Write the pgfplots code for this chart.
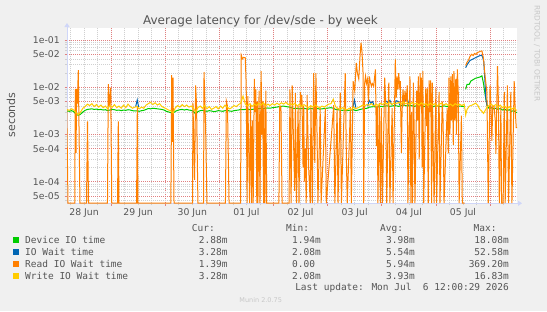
\documentclass[border=0pt]{standalone}
\usepackage{fontspec}
\setmainfont{DejaVu Sans}
\newfontfamily\monofont{DejaVu Sans Mono}
\usepackage{pgfplots}
\pgfplotsset{compat=1.18}
\usepackage{pgfplotstable}
\usetikzlibrary{arrows.meta}
\definecolor{bg}{HTML}{F0F0F0}
\definecolor{txt}{HTML}{555555}
\definecolor{axc}{HTML}{CFD6F8}
\definecolor{mgrid}{HTML}{E08080}
\definecolor{ngrid}{HTML}{D0D0D0}
\definecolor{cdev}{HTML}{00CC00}
\definecolor{cio}{HTML}{0066B3}
\definecolor{cread}{HTML}{FF8000}
\definecolor{cwrite}{HTML}{FFCC00}

% hours since 28 Jun 00:00 ; g = Device IO time, w = Write IO Wait time (seconds)
\pgfplotstableread{
h g w
4.3 3.15e-3 3.40e-3
5.5 3.10e-3 3.25e-3
6.5 3.20e-3 3.50e-3
7.5 3.05e-3 3.30e-3
8.5 2.65e-3 2.90e-3
9.5 2.55e-3 2.65e-3
10.5 2.70e-3 3.00e-3
11.5 3.00e-3 3.60e-3
12.5 3.25e-3 3.90e-3
13.5 3.40e-3 4.40e-3
14.5 3.45e-3 4.10e-3
15.5 3.50e-3 4.50e-3
16.5 3.40e-3 3.90e-3
17.5 3.45e-3 4.30e-3
18.5 3.35e-3 3.80e-3
19.5 3.40e-3 4.20e-3
20.5 3.30e-3 3.70e-3
21.5 3.35e-3 4.00e-3
22.5 3.20e-3 3.50e-3
23.5 3.30e-3 4.10e-3
24.5 3.40e-3 3.80e-3
25.5 3.35e-3 4.30e-3
26.5 3.25e-3 3.70e-3
27.5 3.30e-3 4.00e-3
28.5 3.20e-3 3.60e-3
29.5 3.30e-3 4.20e-3
30.5 3.25e-3 3.70e-3
31.5 3.35e-3 4.40e-3
32.5 3.30e-3 3.90e-3
33.5 3.20e-3 3.60e-3
34.5 3.15e-3 3.80e-3
35.5 3.15e-3 3.90e-3
36.5 3.10e-3 3.50e-3
37.5 3.20e-3 3.80e-3
38.5 3.25e-3 3.60e-3
39.5 3.40e-3 4.20e-3
40.5 3.55e-3 4.50e-3
41.5 3.50e-3 4.80e-3
42.5 3.60e-3 4.30e-3
43.5 3.55e-3 4.70e-3
44.5 3.50e-3 4.20e-3
45.5 3.45e-3 4.50e-3
46.5 3.40e-3 3.90e-3
47.5 3.30e-3 3.70e-3
48.5 3.10e-3 3.50e-3
49.5 3.00e-3 3.30e-3
50.5 2.90e-3 3.20e-3
51.5 2.85e-3 2.85e-3
52.5 3.10e-3 3.70e-3
53.5 3.25e-3 4.10e-3
54.5 3.35e-3 3.80e-3
55.5 3.40e-3 4.30e-3
56.5 3.30e-3 3.90e-3
57.5 3.40e-3 4.20e-3
58.5 3.30e-3 3.80e-3
59.5 3.25e-3 4.00e-3
60.5 3.10e-3 3.60e-3
61.5 2.70e-3 3.00e-3
62.5 3.05e-3 3.70e-3
63.5 3.20e-3 4.00e-3
64.5 3.25e-3 3.60e-3
65.5 3.15e-3 4.10e-3
66.5 3.10e-3 3.50e-3
67.5 3.20e-3 3.90e-3
68.5 3.15e-3 3.40e-3
69.5 3.05e-3 3.60e-3
70.5 3.10e-3 3.90e-3
71.5 3.20e-3 3.50e-3
72.5 3.15e-3 4.00e-3
73.5 3.10e-3 3.60e-3
74.5 3.20e-3 4.20e-3
75.5 3.25e-3 3.80e-3
76.5 3.15e-3 3.50e-3
77.5 3.10e-3 3.70e-3
78.5 3.20e-3 4.10e-3
79.5 3.25e-3 3.90e-3
80.5 3.30e-3 4.30e-3
81.5 3.40e-3 4.60e-3
82.5 3.35e-3 6.50e-3
83.5 3.40e-3 4.40e-3
84.5 3.45e-3 4.00e-3
85.5 3.35e-3 4.50e-3
86.5 3.40e-3 3.90e-3
87.5 3.45e-3 4.40e-3
88.5 3.50e-3 4.10e-3
89.5 3.55e-3 4.60e-3
90.5 3.60e-3 4.20e-3
91.5 3.55e-3 4.70e-3
92.5 3.60e-3 4.00e-3
93.5 3.65e-3 4.40e-3
94.5 3.60e-3 4.10e-3
95.5 3.70e-3 4.50e-3
96.5 3.75e-3 4.20e-3
97.5 3.80e-3 4.60e-3
98.5 3.90e-3 4.30e-3
99.5 3.95e-3 4.70e-3
100.5 4.00e-3 4.40e-3
101.5 3.90e-3 4.80e-3
102.5 3.85e-3 4.30e-3
103.5 3.75e-3 4.50e-3
104.5 3.60e-3 4.20e-3
105.5 3.55e-3 4.60e-3
106.5 3.60e-3 4.00e-3
107.5 3.50e-3 4.40e-3
108.5 3.55e-3 3.90e-3
109.5 3.60e-3 4.30e-3
110.5 3.50e-3 4.00e-3
111.5 3.45e-3 3.70e-3
112.5 3.55e-3 4.10e-3
113.5 3.50e-3 3.80e-3
114.5 3.60e-3 4.20e-3
115.5 3.55e-3 3.90e-3
116.5 3.45e-3 3.70e-3
117.5 3.50e-3 4.00e-3
118.5 3.55e-3 3.80e-3
119.5 3.60e-3 4.10e-3
120.5 3.65e-3 4.40e-3
121.5 3.70e-3 4.50e-3
122.5 3.60e-3 5.60e-3
123.5 3.40e-3 3.90e-3
124.5 3.35e-3 3.60e-3
125.5 3.30e-3 3.40e-3
126.5 3.25e-3 3.70e-3
127.5 3.30e-3 3.50e-3
128.5 3.20e-3 3.30e-3
129.5 3.25e-3 3.60e-3
130.5 3.30e-3 3.40e-3
131.5 3.35e-3 3.80e-3
132.5 3.20e-3 3.50e-3
133.5 3.30e-3 3.70e-3
134.5 3.40e-3 3.90e-3
135.5 3.50e-3 4.20e-3
136.5 3.55e-3 4.10e-3
137.5 3.60e-3 4.30e-3
138.5 3.80e-3 4.20e-3
139.5 3.85e-3 4.50e-3
140.5 3.90e-3 4.00e-3
141.5 3.80e-3 4.40e-3
142.5 3.85e-3 4.10e-3
143.5 3.95e-3 4.60e-3
144.5 3.90e-3 4.30e-3
145.5 4.00e-3 4.70e-3
146.5 4.05e-3 4.40e-3
147.5 3.95e-3 4.80e-3
148.5 4.00e-3 4.30e-3
149.5 4.10e-3 4.70e-3
150.5 4.05e-3 4.50e-3
151.5 3.95e-3 4.80e-3
152.5 4.10e-3 4.40e-3
153.5 4.20e-3 4.90e-3
154.5 4.10e-3 4.50e-3
155.5 4.00e-3 4.70e-3
156.5 4.15e-3 4.30e-3
157.5 4.05e-3 4.80e-3
158.5 3.95e-3 4.40e-3
159.5 4.10e-3 4.60e-3
160.5 4.20e-3 4.20e-3
161.5 4.05e-3 4.70e-3
162.5 3.90e-3 4.30e-3
163.5 4.00e-3 4.50e-3
164.5 4.10e-3 4.10e-3
165.5 3.95e-3 4.60e-3
166.5 3.85e-3 4.20e-3
167.5 4.00e-3 4.50e-3
168.5 4.10e-3 4.00e-3
169.5 3.95e-3 4.40e-3
170.5 3.90e-3 4.60e-3
171.5 4.05e-3 4.20e-3
172.5 3.95e-3 4.50e-3
173.5 3.85e-3 4.10e-3
174.5 4.00e-3 4.40e-3
175.5 4.10e-3 4.00e-3
176.5 3.95e-3 4.50e-3
177.5 3.90e-3 4.20e-3
178.5 4.00e-3 4.40e-3
179.5 3.95e-3 4.10e-3
180.5 3.90e-3 4.40e-3
181.0 nan 3.20e-3
181.2 9.1e-3 2.60e-3
181.8 11.6e-3 3.40e-3
182.8 11.6e-3 4.00e-3
183.5 13.6e-3 4.10e-3
184.5 14.5e-3 4.30e-3
185.5 15.5e-3 4.60e-3
186.5 16.0e-3 4.20e-3
187.5 16.5e-3 3.40e-3
188.4 17.5e-3 3.10e-3
189.1 12.0e-3 2.80e-3
189.8 7.0e-3 3.20e-3
190.6 4.20e-3 3.80e-3
191.5 3.60e-3 4.10e-3
192.5 3.70e-3 4.40e-3
193.5 3.50e-3 4.00e-3
194.5 3.60e-3 4.30e-3
195.5 3.40e-3 3.80e-3
196.5 3.55e-3 4.20e-3
197.5 3.30e-3 3.70e-3
198.5 3.45e-3 4.00e-3
199.5 3.20e-3 3.50e-3
200.5 3.35e-3 3.90e-3
201.5 3.10e-3 3.40e-3
202.5 3.20e-3 3.70e-3
203.5 2.95e-3 3.30e-3
204.2 2.88e-3 3.28e-3
}\basetab

% Read IO Wait time (seconds); 3.5e-5 stands for 0 (drawn at the bottom of the log axis)
\pgfplotstableread{
h r
4.3 5e-3
4.9 3.5e-5
7.9 3.5e-5
8.14 9.3e-3
8.45 4.1e-4
8.76 9.3e-3
9.03 4.5e-3
9.47 0.023
10.2 3.5e-5
13.1 3.5e-5
13.55 1.9e-3
14.0 3.5e-5
22.4 3.5e-5
22.77 0.0116
23.2 4e-3
23.84 0.0098
24.3 3.5e-5
26.85 3.5e-5
27.2 1.9e-3
27.5 3.5e-5
35.3 3.5e-5
35.63 4e-3
35.9 3.5e-5
50.5 3.5e-5
50.88 0.018
51.14 7e-4
51.45 0.016
51.9 3.5e-5
60.1 3.5e-5
60.3 4.7e-3
61.0 1.1e-4
61.5 0.011
61.9 4e-3
62.5 3.5e-5
65.0 3.5e-5
65.2 0.021
65.9 1.5e-3
66.5 3.5e-5
74.7 3.5e-5
75.1 5.1e-3
75.6 4e-3
76.3 3.5e-5
81.4 3.5e-5
81.7 0.048
82.2 0.040
82.7 0.043
83.5 0.042
83.9 0.011
84.3 3.5e-5
84.6 6.5e-3
85.0 5e-4
85.4 3.5e-5
85.8 4.5e-3
86.3 3.5e-5
86.6 2e-3
87.0 3.5e-5
87.5 0.015
87.8 3e-3
88.2 9e-3
88.6 3.5e-5
88.8 5e-3
89.1 3.5e-5
89.6 8.5e-3
90.0 3.5e-5
90.5 0.022
90.9 1e-3
91.2 5e-3
91.6 3.5e-5
91.8 4.5e-3
92.2 3.5e-5
92.6 8.5e-3
93.0 3.5e-5
98.4 3.5e-5
98.75 4e-3
99.3 4e-3
99.8 3.5e-5
102.9 3.5e-5
103.3 9e-3
103.8 3.5e-5
104.3 0.011
105.4 6.4e-5
105.7 7.5e-3
106.2 3.5e-5
106.9 4e-3
107.3 3.5e-5
107.9 8e-3
108.3 5e-3
108.6 6.8e-3
109.1 2e-4
109.4 4e-3
109.7 1e-4
110.1 5e-4
110.5 3.5e-5
110.9 6.8e-3
111.6 1.9e-4
112.3 3.5e-5
112.6 4e-3
113.2 3.5e-5
113.8 0.020
114.3 2.5e-4
114.8 0.020
115.3 1e-3
115.7 3.5e-5
116.7 3.6e-3
117.1 3.5e-5
119.0 3.6e-3
119.4 3.5e-5
122.7 4.2e-3
123.2 3.5e-5
124.2 3.6e-3
124.6 3.5e-5
125.6 7.7e-3
126.1 3.5e-5
127.8 0.020
128.3 3.5e-4
128.7 3.5e-5
130.1 3.8e-3
130.5 3.5e-5
131.3 0.0135
132.0 8.3e-3
132.7 0.033
133.2 0.020
133.8 0.015
134.35 0.045
134.8 0.088
135.2 0.060
135.7 0.020
136.0 3.5e-5
136.4 0.012
136.8 0.017
137.2 0.012
137.7 0.015
138.1 5e-3
138.5 0.017
138.9 0.013
139.4 0.0106
139.8 0.012
140.4 0.0106
141.2 0.024
141.6 5.7e-4
142.0 4e-3
142.3 3.5e-5
142.9 4.6e-3
143.4 3.5e-5
143.8 3.6e-3
144.3 3.5e-5
145.3 0.016
145.8 4e-3
146.2 3.5e-5
147.1 0.0125
147.6 3.5e-5
148.6 3.6e-3
149.0 3.5e-5
150.0 0.039
150.4 6e-3
150.8 0.017
151.2 9e-3
151.5 0.020
151.9 0.011
152.2 0.0135
152.7 4.1e-4
153.0 3e-3
153.4 9e-3
153.9 4e-3
154.3 8.5e-3
154.8 5e-3
155.3 0.011
155.6 3.5e-5
156.5 0.017
156.9 3.5e-5
157.2 3e-3
157.6 3.5e-5
158.0 0.0125
158.4 1e-3
158.7 3.5e-5
159.5 8.5e-3
159.9 2e-3
160.2 0.017
160.6 3e-4
161.0 0.020
161.3 4e-3
161.6 0.016
161.9 2e-4
162.2 0.022
162.6 3.5e-5
163.5 9.5e-3
163.9 1.5e-3
164.2 9.5e-3
164.6 3.5e-5
165.0 0.014
165.4 3e-3
165.7 0.014
166.1 3.5e-5
166.4 0.0125
166.8 5e-4
167.2 3.5e-5
168.0 9.5e-3
168.3 3.5e-5
169.4 8e-3
169.8 3.5e-5
170.8 5e-3
171.2 1.9e-3
171.6 3.5e-5
173.0 3.6e-3
173.5 4e-4
173.8 0.016
174.2 1e-3
174.6 0.017
174.9 2e-3
175.3 0.019
175.7 6e-4
176.0 0.022
176.4 2e-3
176.8 0.015
177.1 1e-3
177.5 0.024
177.9 8e-3
178.3 3.5e-5
179.3 2.5e-3
179.7 3.5e-5
180.7 3.5e-5
180.95 nan
181.2 0.029
181.8 0.034
182.5 0.038
183.1 0.045
183.8 0.050
184.5 0.047
185.1 0.052
185.8 0.050
186.5 0.055
187.1 0.056
187.8 0.058
188.4 0.059
189.1 0.040
189.8 0.017
190.6 8e-3
191.2 3.5e-5
192.0 0.011
192.5 3e-3
192.8 7.3e-4
193.2 4e-3
193.8 3.9e-3
194.3 2e-3
194.6 3.9e-4
195.3 0.028
195.7 5e-3
196.1 3.5e-5
196.8 3.9e-3
197.1 3.5e-5
197.8 3.5e-5
198.3 8e-3
198.7 3.5e-5
199.7 0.011
200.2 3.5e-5
201.2 8e-3
201.7 3.5e-5
202.7 0.0135
203.1 3.9e-3
203.6 1.39e-3
204.2 1.39e-3
}\readtab

\begin{document}
\begin{tikzpicture}[x=1bp,y=1bp]
\fill[bg] (0,0) rectangle (547,311);
\useasboundingbox (0,0) rectangle (547,311);
\begin{axis}[
  at={(67bp,107.7bp)}, anchor=south west,
  scale only axis, width=450bp, height=175.3bp,
  xmin=4.46, xmax=203.95,
  ymode=log, ymin=3.486e-5, ymax=0.1804,
  axis background/.style={fill=white},
  axis x line*=bottom, axis y line*=left,
  axis line style={draw=axc, line width=0.9bp, -{Triangle[length=4bp,width=5bp]}, shorten >=-5bp},
  xtick={24,48,72,96,120,144,168,192},
  xticklabels={},
  minor xtick={6,12,18,30,36,42,54,60,66,78,84,90,102,108,114,126,132,138,150,156,162,174,180,186,198},
  extra x ticks={12,36,60,84,108,132,156,180},
  extra x tick labels={28 Jun,29 Jun,30 Jun,01 Jul,02 Jul,03 Jul,04 Jul,05 Jul},
  extra x tick style={grid=none, major tick length=0pt},
  ytick={5e-5,1e-4,5e-4,1e-3,5e-3,1e-2,5e-2,1e-1},
  yticklabels={5e-05,1e-04,5e-04,1e-03,5e-03,1e-02,5e-02,1e-01},
  minor ytick={4e-5,6e-5,7e-5,8e-5,9e-5,2e-4,3e-4,4e-4,6e-4,7e-4,8e-4,9e-4,2e-3,3e-3,4e-3,6e-3,7e-3,8e-3,9e-3,2e-2,3e-2,4e-2,6e-2,7e-2,8e-2,9e-2},
  grid=both,
  major grid style={draw=mgrid, dash pattern=on 1bp off 1bp, line width=0.7bp},
  minor grid style={draw=ngrid, dash pattern=on 1bp off 1bp, line width=0.6bp},
  tick align=outside, major tick length=2.5bp, minor tick length=2bp,
  major tick style={draw=mgrid, line width=0.6bp},
  minor tick style={draw=ngrid, line width=0.6bp},
  tick label style={font=\fontsize{9.3bp}{10bp}\selectfont, text=txt, inner sep=0pt},
  yticklabel style={anchor=east, xshift=-4.5bp},
  xticklabel style={anchor=north, yshift=-4.7bp},
  no markers,
  unbounded coords=jump,
  clip=true,
]
\addplot[cdev, line width=1bp] table[x=h,y=g] {\basetab};
\addplot[cio, line width=1bp] coordinates {(34.9,3.9e-3) (35.6,5.4e-3) (36.2,3.8e-3)};
\addplot[cio, line width=1bp] coordinates {(131.2,3.8e-3) (131.9,5.4e-3) (132.5,3.7e-3)};
\addplot[cio, line width=1bp] coordinates {(137.8,4.0e-3) (138.4,5.3e-3) (139.2,4.6e-3) (140.0,5.0e-3) (140.6,4.0e-3)};
\addplot[cio, line width=1bp] coordinates {(145.0,4.1e-3) (145.6,5.2e-3) (146.6,4.8e-3) (147.6,5.3e-3) (148.4,4.2e-3)};
\addplot[cio, line width=1bp] coordinates {(149.8,4.2e-3) (150.4,5.2e-3) (151.4,5.0e-3) (152.0,4.2e-3)};
\addplot[cio, line width=1bp] coordinates {(153.2,4.3e-3) (153.8,6.0e-3) (154.6,5.3e-3) (155.3,5.8e-3) (156.0,4.3e-3)};
\addplot[cio, line width=1bp] coordinates {(181.2,0.026) (181.8,0.030) (183.1,0.037) (184.5,0.040) (185.8,0.043) (187.1,0.046) (187.9,0.0475) (188.6,0.046) (189.2,0.035) (189.8,0.012) (190.1,6e-3) (190.7,4e-3)};
\addplot[cread, line width=1bp] table[x=h,y=r] {\readtab};
\addplot[cwrite, line width=1bp] table[x=h,y=w] {\basetab};
\end{axis}

% title, axis label, watermark
\node[anchor=base, inner sep=0, text=txt, font=\fontsize{12bp}{14bp}\selectfont] at (260.5,287) {Average latency for /dev/sde - by week};
\node[rotate=90, inner sep=0, text=txt, font=\fontsize{11bp}{13bp}\selectfont] at (11,196) {seconds};
\node[rotate=-90, inner sep=0, text={rgb,255:red,200;green,200;blue,200}, font=\fontsize{7.5bp}{9bp}\selectfont] at (537,257.5) {RRDTOOL / TOBI OETIKER};

% legend
\begin{scope}[every node/.style={inner sep=0pt, text=txt, font=\monofont\fontsize{9.5bp}{11bp}\selectfont}]
\node[anchor=base east] at (215,80) {Cur:};
\node[anchor=base east] at (309.3,80) {Min:};
\node[anchor=base east] at (403.3,80) {Avg:};
\node[anchor=base east] at (496.7,80) {Max:};

\fill[cdev] (13.3,68.3) rectangle (19.3,74.1);
\node[anchor=base west] at (25,67.7) {Device IO time};
\node[anchor=base east] at (227.7,67.7) {2.88m};
\node[anchor=base east] at (321,67.7) {1.94m};
\node[anchor=base east] at (415,67.7) {3.98m};
\node[anchor=base east] at (509,67.7) {18.08m};

\fill[cio] (13.3,56.3) rectangle (19.3,62.1);
\node[anchor=base west] at (25,55.7) {IO Wait time};
\node[anchor=base east] at (227.7,55.7) {3.28m};
\node[anchor=base east] at (321,55.7) {2.08m};
\node[anchor=base east] at (415,55.7) {5.54m};
\node[anchor=base east] at (509,55.7) {52.58m};

\fill[cread] (13.3,44.3) rectangle (19.3,50.1);
\node[anchor=base west] at (25,43.7) {Read IO Wait time};
\node[anchor=base east] at (227.7,43.7) {1.39m};
\node[anchor=base east] at (315.3,43.7) {0.00};
\node[anchor=base east] at (415,43.7) {5.94m};
\node[anchor=base east] at (509,43.7) {369.20m};

\fill[cwrite] (13.3,32.3) rectangle (19.3,38.1);
\node[anchor=base west] at (25,31.7) {Write IO Wait time};
\node[anchor=base east] at (227.7,31.7) {3.28m};
\node[anchor=base east] at (321,31.7) {2.08m};
\node[anchor=base east] at (415,31.7) {3.93m};
\node[anchor=base east] at (509,31.7) {16.83m};

\node[anchor=base east] at (509,20.3) {Last update: Mon Jul\ \ 6 12:00:29 2026};
\end{scope}
\node[anchor=base, inner sep=0, text={rgb,255:red,200;green,200;blue,200}, font=\fontsize{6.5bp}{8bp}\selectfont] at (260.7,8.5) {Munin 2.0.75};
\end{tikzpicture}
\end{document}
